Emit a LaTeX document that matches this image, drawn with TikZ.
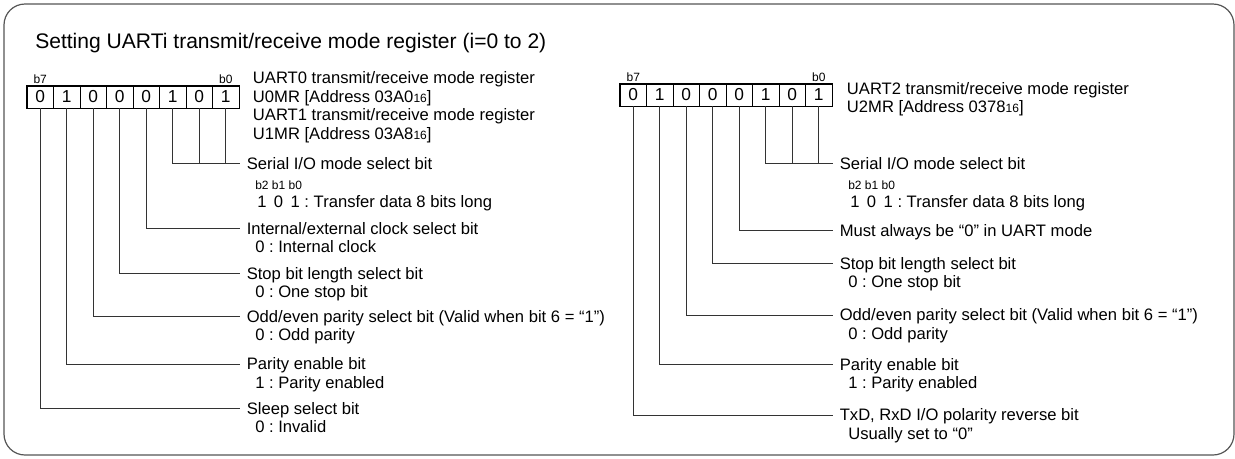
\documentclass[tikz,border=0pt]{standalone}
\usepackage{fontspec}
\setmainfont{Liberation Sans}
\usetikzlibrary{positioning,calc}
\definecolor{frameg}{HTML}{555555}
\definecolor{wireg}{HTML}{333333}
\newcommand{\hexsub}[1]{{\fontsize{9}{9}\selectfont #1}}
\frenchspacing

\begin{document}
\begin{tikzpicture}[x=0.75pt,y=-0.75pt,
    cell/.style={draw=black,line width=0.5pt,minimum width=19.875pt,minimum height=16.5pt,inner sep=0pt,font=\fontsize{13}{14}\selectfont},
    bitno/.style={inner sep=0pt,font=\fontsize{9}{10}\selectfont},
    field/.style={anchor=west,inner xsep=4.9pt,inner ysep=0pt,text height=8.9pt,text depth=0pt,font=\fontsize{12.45}{14}\selectfont},
    note/.style={anchor=base west,inner sep=0pt,font=\fontsize{12.45}{14}\selectfont},
    small/.style={anchor=base west,inner sep=0pt,font=\fontsize{9}{10}\selectfont},
    wire/.style={draw=wireg,line width=0.6pt},
    boxline/.style={draw=black,line width=1pt}
]
\useasboundingbox (0,0) rectangle (1235,458);
\draw[frameg,line width=0.9pt,rounded corners=15.75pt] (4,4) rectangle (1234,455);

\node[anchor=base west,inner sep=0pt,font=\fontsize{15.8}{18}\selectfont] (title) at (35,48) {Setting UARTi transmit/receive mode register (i=0 to 2)};

% UART0 / UART1 register
\foreach \b/\v [count=\k from 0] in {7/0,6/1,5/0,4/0,3/0,2/1,1/0,0/1}
    \node[cell] (L\b) at (40.25+\k*26.5,97) {\v};
\draw[boxline] (L7.north west) rectangle (L0.south east);
\node[bitno,above=1.5pt of L7.north] {b7};
\node[bitno,above=1.5pt of L0.north] {b0};

\node[note] (lhdA) at (252.7,83.9) {UART0 transmit/receive mode register};
\node[note] (lhdB) at (252.7,102.4) {U0MR [Address 03A0\hexsub{16}]};
\node[note] (lhdC) at (252.7,120.9) {UART1 transmit/receive mode register};
\node[note] (lhdD) at (252.7,139.3) {U1MR [Address 03A8\hexsub{16}]};

\node[field] (lser) at (240,163.3) {Serial I/O mode select bit};
\node[small] (lserb) at ($(lser.west)+(15,26)$) {b2 b1 b0};
\node[note] (lserv) at ($(lser.west)+(17,43.8)$) {1\hspace{5.6pt}0\hspace{5.6pt}1 : Transfer data 8 bits long};
\node[field] (lclk) at (240,228.3) {Internal/external clock select bit};
\node[note] (lclkv) at ($(lclk.west)+(15,24)$) {0 : Internal clock};
\node[field] (lstop) at (240,273.7) {Stop bit length select bit};
\node[note] (lstopv) at ($(lstop.west)+(15,24)$) {0 : One stop bit};
\node[field] (lpar) at (240,316.7) {Odd/even parity select bit (Valid when bit 6 = “1”)};
\node[note] (lparv) at ($(lpar.west)+(15,24)$) {0 : Odd parity};
\node[field] (lpen) at (240,364) {Parity enable bit};
\node[note] (lpenv) at ($(lpen.west)+(15,24)$) {1 : Parity enabled};
\node[field] (lslp) at (240,408.7) {Sleep select bit};
\node[note] (lslpv) at ($(lslp.west)+(15,24)$) {0 : Invalid};

\draw[wire] (L2.south) |- (lser.west);
\draw[wire] (L1.south) -- (L1.south |- lser.west);
\draw[wire] (L0.south) -- (L0.south |- lser.west);
\draw[wire] (L3.south) |- (lclk.west);
\draw[wire] (L4.south) |- (lstop.west);
\draw[wire] (L5.south) |- (lpar.west);
\draw[wire] (L6.south) |- (lpen.west);
\draw[wire] (L7.south) |- (lslp.west);

% UART2 register
\foreach \b/\v [count=\k from 0] in {7/0,6/1,5/0,4/0,3/0,2/1,1/0,0/1}
    \node[cell] (R\b) at (633.25+\k*26.5,95) {\v};
\draw[boxline] (R7.north west) rectangle (R0.south east);
\node[bitno,above=1.5pt of R7.north] {b7};
\node[bitno,above=1.5pt of R0.north] {b0};

\node[note] (rhdA) at (846.7,94.2) {UART2 transmit/receive mode register};
\node[note] (rhdB) at (846.7,112.6) {U2MR [Address 0378\hexsub{16}]};

\node[field] (rser) at (833,163.3) {Serial I/O mode select bit};
\node[small] (rserb) at ($(rser.west)+(15,26)$) {b2 b1 b0};
\node[note] (rserv) at ($(rser.west)+(17,43.8)$) {1\hspace{5.6pt}0\hspace{5.6pt}1 : Transfer data 8 bits long};
\node[field] (rmust) at (833,230.7) {Must always be “0” in UART mode};
\node[field] (rstop) at (833,263.3) {Stop bit length select bit};
\node[note] (rstopv) at ($(rstop.west)+(15,24)$) {0 : One stop bit};
\node[field] (rpar) at (833,315) {Odd/even parity select bit (Valid when bit 6 = “1”)};
\node[note] (rparv) at ($(rpar.west)+(15,24)$) {0 : Odd parity};
\node[field] (rpen) at (833,364.3) {Parity enable bit};
\node[note] (rpenv) at ($(rpen.west)+(15,24)$) {1 : Parity enabled};
\node[field] (rpol) at (833,415) {TxD, RxD I/O polarity reverse bit};
\node[note] (rpolv) at ($(rpol.west)+(15,24)$) {Usually set to “0”};

\draw[wire] (R2.south) |- (rser.west);
\draw[wire] (R1.south) -- (R1.south |- rser.west);
\draw[wire] (R0.south) -- (R0.south |- rser.west);
\draw[wire] (R3.south) |- (rmust.west);
\draw[wire] (R4.south) |- (rstop.west);
\draw[wire] (R5.south) |- (rpar.west);
\draw[wire] (R6.south) |- (rpen.west);
\draw[wire] (R7.south) |- (rpol.west);
\end{tikzpicture}
\end{document}
